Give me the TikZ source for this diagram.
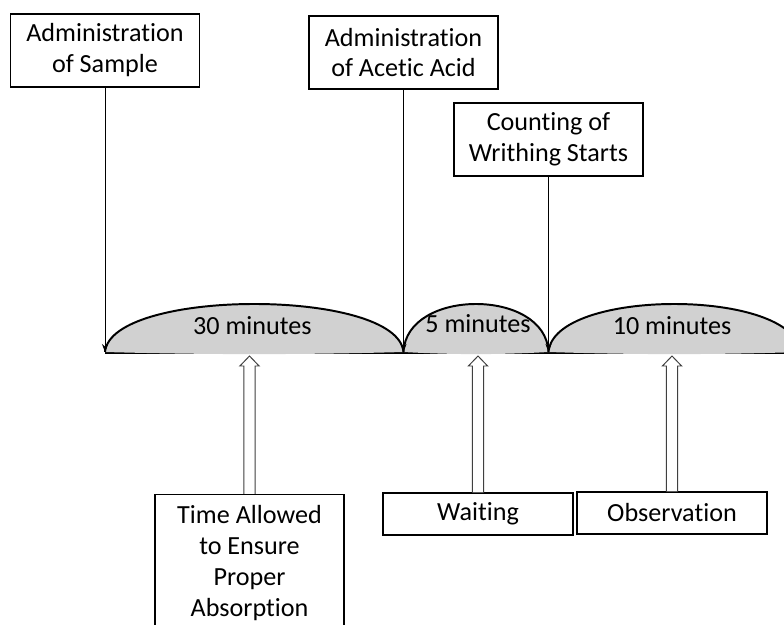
\documentclass[tikz,border=0pt]{standalone}
\usepackage{fontspec}
\setmainfont{Carlito}[Ligatures=NoCommon]
\usetikzlibrary{arrows.meta,
calc
}
\tikzset{>={Stealth[scale=1]}}
\tikzset{
  box/.style={draw, line width=0.8pt, align=center, inner sep=0pt, minimum width=4.725cm},
  lens/.style={fill=black!18},
  hollow/.style={draw=black!75, fill=white, line width=0.7pt}
}

\begin{document}
\begin{tikzpicture}[font=\fontsize{18.6}{22}\selectfont]
            \useasboundingbox (0,0) rectangle (19.6,15.625);
            \clip (0,0) rectangle (19.6,15.625);
            \coordinate (base) at (0,6.825);
            \node[box, minimum height=1.825cm] (sample) at (2.625,14.3625) {Administration\\of Sample};
            \node[box, minimum height=1.825cm] (acid) at (10.0875,14.3125) {Administration\\of Acetic Acid};
            \node[box, minimum height=1.825cm] (count) at (13.7125,12.1375) {Counting of\\Writhing Starts};
            \coordinate (j0) at (sample.south |- base);
            \coordinate (j1) at (acid.south |- base);
            \coordinate (j2) at (count.south |- base);
            \coordinate (j3) at (20.0,6.825);
            \draw[line width=2.2pt] (j0) -- (j3);
            \foreach \a/\b/\c/\w in {j0/j1/0.15/7.46, j1/j2/0.07/3.62, j2/j3/0.13/6.29} {
                \fill[lens] (\a) .. controls +(\c,1.6) and +(-\c,1.6) .. (\b) .. controls +(-\w/3,-0.07) and +(\w/3,-0.07) .. (\a) -- cycle;
                \draw[line width=1.4pt] (\a) .. controls +(\c,1.6) and +(-\c,1.6) .. (\b);
            }
            \node[anchor=base] (m30) at (6.31,7.25) {30 minutes};
            \node[anchor=base] (m5) at (11.95,7.3) {5 minutes};
            \node[anchor=base] (m10) at (16.8,7.25) {10 minutes};
            \draw[->, line width=0.6pt] (sample) -- (j0);
            \draw[->, line width=0.6pt] (acid) -- (j1);
            \draw[->, line width=0.6pt] (count) -- (j2);
            \node[box, anchor=north, inner ysep=0.28cm] (time) at (6.2375,3.275) {Time Allowed\\to Ensure\\Proper\\Absorption\\[2pt]};
            \node[box, minimum width=4.75cm, minimum height=1.05cm] (wait) at (11.95,2.775) {Waiting};
            \node[box, minimum width=4.75cm, minimum height=1.05cm] (obs) at (16.8,2.8) {Observation};
            \foreach \b in {time, wait, obs}
                \draw[hollow] ($(\b.north)+(-0.14,0)$) |- ($(\b.north |- base)+(-0.24,-0.35)$) -- ($(\b.north |- base)+(0,-0.1)$) -- ($(\b.north |- base)+(0.24,-0.35)$) -| ($(\b.north)+(0.14,0)$);
        \end{tikzpicture}
\end{document}
